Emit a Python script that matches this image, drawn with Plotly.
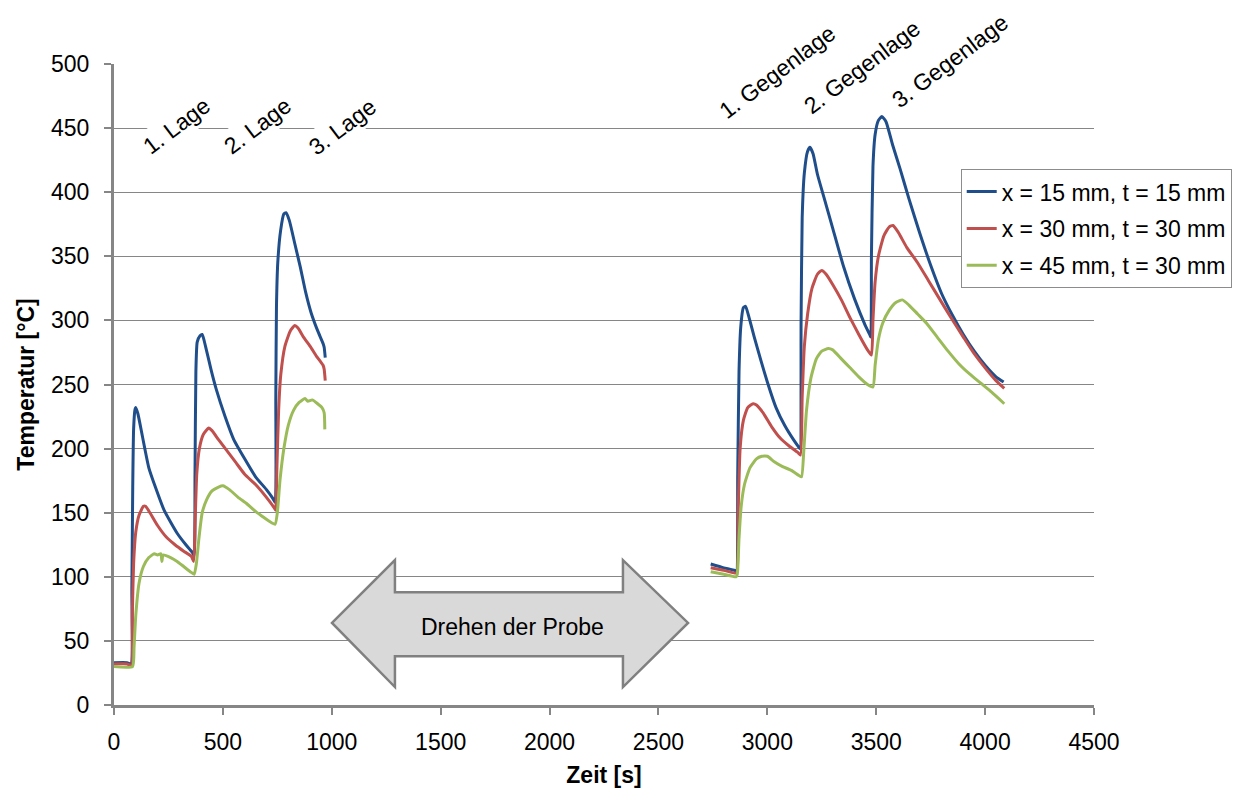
import plotly.graph_objects as go

# ---------------- data ----------------
# Session 1: Lagen (0 .. 970 s)
t_blue_1 = [0, 60, 78, 82, 86, 90, 96, 100, 110, 130, 160, 190, 230, 290, 330, 360, 368,
            372, 376, 382, 395, 405, 420, 445, 470, 510, 550, 600, 650, 700, 730, 740,
            743, 746, 752, 765, 780, 790, 805, 830, 855, 880, 905, 935, 960, 965, 970]
T_blue_1 = [33, 33, 32, 90, 170, 215, 230, 232, 227, 210, 185, 170, 152, 134, 125, 119, 116,
            180, 260, 283, 288, 289, 280, 262, 246, 225, 207, 192, 178, 168, 161, 158,
            240, 310, 345, 370, 383, 384, 378, 360, 342, 322, 306, 292, 282, 279, 271]

t_red_1 = [0, 60, 80, 84, 90, 100, 115, 135, 145, 165, 200, 240, 280, 320, 355, 366,
           372, 380, 392, 410, 435, 450, 480, 520, 560, 600, 650, 700, 735, 742,
           748, 756, 766, 785, 810, 830, 845, 870, 900, 930, 960, 965, 970]
T_red_1 = [32, 32, 31, 70, 110, 135, 148, 155, 155, 150, 140, 131, 125, 120, 116, 112,
           140, 180, 200, 211, 216, 214, 207, 198, 189, 180, 172, 162, 154, 152,
           185, 230, 258, 280, 292, 296, 294, 287, 280, 272, 265, 262, 253]

t_green_1 = [0, 85, 92, 100, 115, 135, 160, 185, 200, 215, 220, 225, 260, 290, 320, 350, 368,
             378, 390, 405, 425, 450, 480, 500, 530, 570, 610, 650, 690, 725, 740,
             750, 762, 780, 800, 825, 850, 877, 890, 910, 935, 955, 965, 968]
T_green_1 = [30, 30, 45, 70, 95, 108, 115, 118, 117, 118, 112, 117, 115, 112, 108, 104, 102,
             110, 130, 150, 160, 167, 170, 171, 168, 162, 157, 151, 146, 142, 141,
             150, 175, 200, 218, 230, 236, 239, 237, 238, 235, 232, 228, 215]

# Session 2: Gegenlagen (2740 .. 4090 s)
t_blue_2 = [2740, 2800, 2850, 2858, 2864, 2870, 2878, 2890, 2900, 2915, 2940, 2970, 3000, 3040,
            3080, 3120, 3145, 3150, 3155, 3160, 3170, 3185, 3196, 3210, 3230, 3260, 3300,
            3350, 3400, 3450, 3470, 3475, 3478, 3485, 3495, 3510, 3526, 3545, 3575, 3610,
            3650, 3700, 3750, 3800, 3850, 3900, 3950, 4000, 4050, 4085]
T_blue_2 = [110, 107, 105, 104, 180, 260, 295, 310, 311, 303, 287, 269, 252, 232,
            218, 207, 201, 200, 300, 380, 415, 432, 435, 430, 414, 396, 372,
            342, 317, 296, 289, 287, 350, 420, 445, 456, 459, 455, 437, 418,
            395, 368, 343, 321, 304, 289, 276, 265, 256, 252]

t_red_2 = [2740, 2800, 2850, 2860, 2866, 2875, 2890, 2910, 2935, 2950, 2980, 3020, 3060, 3100,
           3140, 3152, 3160, 3170, 3185, 3205, 3230, 3250, 3270, 3300, 3340, 3380, 3420,
           3460, 3478, 3485, 3495, 3510, 3535, 3560, 3577, 3600, 3640, 3690, 3740, 3790,
           3840, 3900, 3950, 4000, 4050, 4088]
T_red_2 = [107, 105, 103, 103, 150, 200, 222, 232, 235, 234, 228, 217, 208, 202,
           197, 195, 240, 280, 305, 325, 336, 339, 336, 328, 316, 302, 289,
           277, 273, 300, 330, 350, 366, 373, 374, 369, 357, 345, 331, 317,
           303, 287, 274, 263, 253, 247]

t_green_2 = [2740, 2800, 2856, 2862, 2870, 2880, 2895, 2920, 2950, 2975, 3000, 3030, 3070, 3110,
             3145, 3157, 3168, 3180, 3200, 3225, 3250, 3280, 3300, 3340, 3380, 3420, 3460,
             3485, 3495, 3510, 3530, 3560, 3590, 3620, 3650, 3690, 3730, 3780, 3830, 3880,
             3930, 3980, 4030, 4088]
T_green_2 = [104, 102, 100, 102, 130, 155, 172, 185, 192, 194, 194, 190, 186, 183,
             179, 178, 200, 230, 255, 270, 276, 278, 277, 270, 263, 256, 250,
             248, 265, 285, 298, 308, 314, 316, 312, 305, 298, 287, 276, 266,
             258, 251, 244, 235]

series_names = ["x = 15 mm, t = 15 mm", "x = 30 mm, t = 30 mm", "x = 45 mm, t = 30 mm"]
series_colors = ["#1F4E8A", "#C0504D", "#9BBB59"]

layer_labels = ["1. Lage", "2. Lage", "3. Lage"]
layer_pos_t = [285, 657, 1047]
layer_pos_T = [452, 452, 451]
counter_labels = ["1. Gegenlage", "2. Gegenlage", "3. Gegenlage"]
counter_pos_t = [3044, 3435, 3839]
counter_pos_T = [494, 496, 496]
counter_shift = [0, 2, 8]

x_ticks = [0, 500, 1000, 1500, 2000, 2500, 3000, 3500, 4000, 4500]
y_ticks = [0, 50, 100, 150, 200, 250, 300, 350, 400, 450, 500]

FONT = "Liberation Sans, Arial, sans-serif"
FS = 23

fig = go.Figure()
sessions = [
    (t_blue_1, T_blue_1, t_blue_2, T_blue_2),
    (t_red_1, T_red_1, t_red_2, T_red_2),
    (t_green_1, T_green_1, t_green_2, T_green_2),
]
for i, (ta, Ta, tb, Tb) in enumerate(sessions):
    fig.add_trace(go.Scatter(
        x=ta + [None] + tb, y=Ta + [None] + Tb,
        mode="lines", name=series_names[i], legendgroup=f"g{i}",
        line=dict(color=series_colors[i], width=3, shape="spline", smoothing=0.5),
        connectgaps=False,
    ))

# double arrow "Drehen der Probe"
fig.add_shape(
    type="path", xref="x", yref="y",
    path="M 1001,64 L 1290,113 L 1290,88 L 2337,88 L 2337,113 L 2636,64 "
         "L 2337,14 L 2337,38 L 1290,38 L 1290,14 Z",
    fillcolor="#D9D9D9", line=dict(color="#808080", width=2.5), layer="above",
)
fig.add_annotation(x=1828, y=61, xref="x", yref="y", text="Drehen der Probe",
                   showarrow=False, font=dict(family=FONT, size=FS, color="black"))

for lab, tx, ty in zip(layer_labels, layer_pos_t, layer_pos_T):
    fig.add_annotation(x=tx, y=ty, xref="x", yref="y", text=lab, showarrow=False,
                       textangle=-37, bgcolor="white", borderpad=2,
                       font=dict(family=FONT, size=FS, color="black"))
for lab, tx, ty, sh in zip(counter_labels, counter_pos_t, counter_pos_T, counter_shift):
    fig.add_annotation(x=tx, y=ty, xref="x", yref="y", text=lab, showarrow=False,
                       textangle=-37, bgcolor="white", borderpad=2, yshift=sh,
                       font=dict(family=FONT, size=FS, color="black"))

fig.update_layout(
    template="none",
    width=1255, height=792,
    margin=dict(l=114, r=161, t=64, b=87),
    paper_bgcolor="white", plot_bgcolor="white",
    font=dict(family=FONT, size=FS, color="black"),
    showlegend=True,
    legend=dict(x=0.864, y=0.836, xref="paper", yref="paper",
                xanchor="left", yanchor="top",
                bgcolor="white", bordercolor="#8C8C8C", borderwidth=1,
                font=dict(family=FONT, size=FS, color="black"),
                tracegroupgap=4, itemwidth=30),
    xaxis=dict(range=[0, 4500], tickvals=x_ticks, showgrid=False, zeroline=False,
               showline=True, linecolor="#868686", linewidth=3,
               ticks="outside", ticklen=7, tickwidth=2, tickcolor="#868686",
               ticklabelstandoff=7, automargin=False,
               title=dict(text="<b>Zeit [s]</b>", standoff=14,
                          font=dict(family=FONT, size=FS, color="black"))),
    yaxis=dict(range=[0, 500], tickvals=y_ticks, showgrid=True, gridcolor="#868686",
               gridwidth=1, zeroline=False,
               showline=True, linecolor="#868686", linewidth=3,
               ticks="outside", ticklen=7, tickwidth=2, tickcolor="#868686",
               ticklabelstandoff=10, automargin=False,
               title=dict(text="<b>Temperatur [°C]</b>", standoff=10,
                          font=dict(family=FONT, size=FS, color="black"))),
)

fig.write_html("out.html")
